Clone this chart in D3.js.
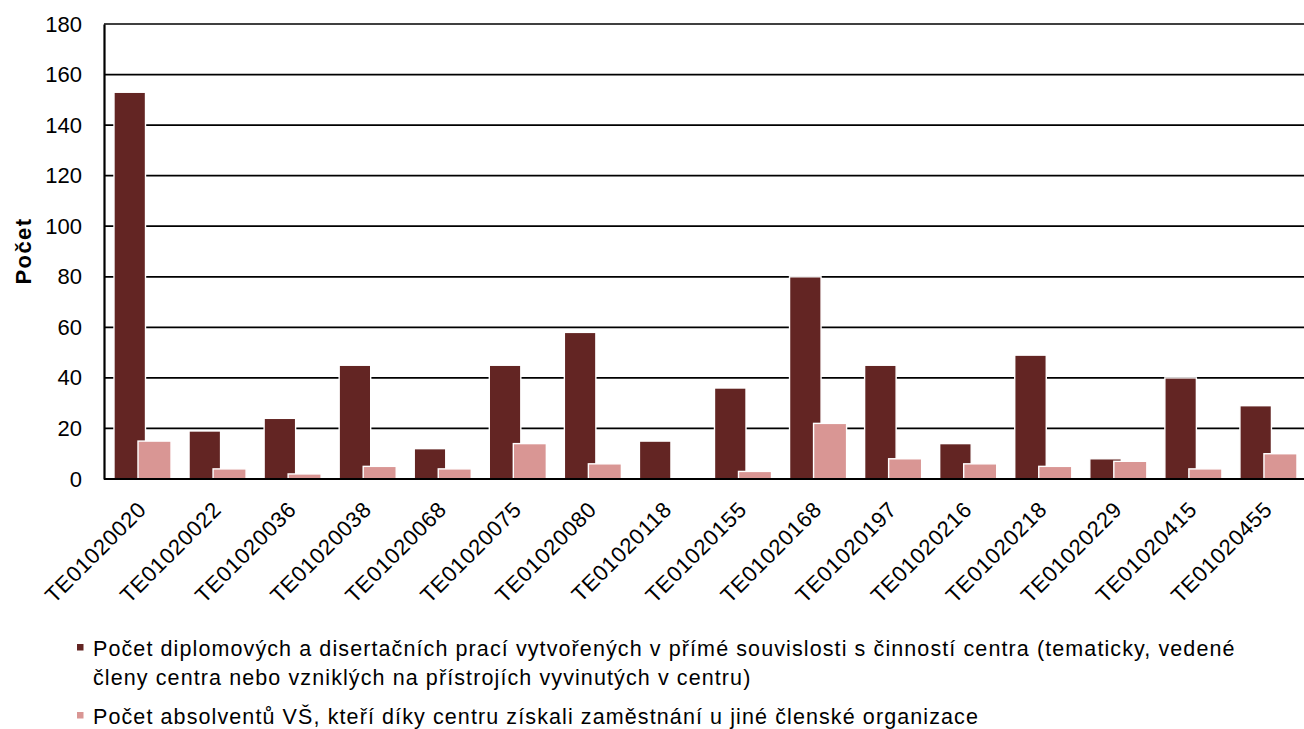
<!DOCTYPE html>
<html>
<head>
<meta charset="utf-8">
<script src="https://cdn.jsdelivr.net/npm/d3@7/dist/d3.min.js"></script>
<style>
  html, body { margin: 0; padding: 0; background: #fff; }
  svg { display: block; font-family: "Liberation Sans", Arial, sans-serif; }
</style>
</head>
<body>
<svg id="chart" width="1304" height="729"></svg>
<script>
// Project codes (categories)
const categories = [
  "TE01020020", "TE01020022", "TE01020036", "TE01020038",
  "TE01020068", "TE01020075", "TE01020080", "TE01020118",
  "TE01020155", "TE01020168", "TE01020197", "TE01020216",
  "TE01020218", "TE01020229", "TE01020415", "TE01020455"
];

// Theses created in direct connection with the centre's activity
const theses = [153, 19, 24, 45, 12, 45, 58, 15, 36, 80, 45, 14, 49, 8, 40, 29];

// Graduates employed at another member organisation thanks to the centre
const graduates = [15, 4, 2, 5, 4, 14, 6, 0, 3, 22, 8, 6, 5, 7, 4, 10];

const yTicks = [0, 20, 40, 60, 80, 100, 120, 140, 160, 180];

const seriesNames = [
  ["Počet diplomových a disertačních prací vytvořených v přímé souvislosti s činností centra (tematicky, vedené",
   "členy centra nebo vzniklých na přístrojích vyvinutých v centru)"],
  ["Počet absolventů VŠ, kteří díky centru získali zaměstnání u jiné členské organizace"]
];

const colors = ["#632523", "#D99694"];

const svg = d3.select("#chart");
const plot = { left: 104, right: 1305, top: 24, bottom: 479 };

const x = d3.scaleBand().domain(categories).range([plot.left, plot.right]).padding(0);
const y = d3.scaleLinear().domain([0, 180]).range([plot.bottom, plot.top]);
const bw = x.bandwidth();

// Horizontal gridlines
svg.append("g")
  .selectAll("line")
  .data(yTicks.filter(d => d > 0))
  .join("line")
  .attr("x1", plot.left).attr("x2", 1304)
  .attr("y1", d => y(d)).attr("y2", d => y(d))
  .attr("stroke", "#000").attr("stroke-width", 1.7);

// Bars: dark series first, light series overlapping on top
const barDefs = [
  { values: theses, offset: 0.133, width: 0.42, color: colors[0] },
  { values: graduates, offset: 0.453, width: 0.44, color: colors[1] }
];

barDefs.forEach(s => {
  svg.append("g")
    .selectAll("rect")
    .data(categories.map((c, i) => ({ c, v: s.values[i] })).filter(d => d.v > 0))
    .join("rect")
    .attr("x", d => x(d.c) + bw * s.offset)
    .attr("width", bw * s.width)
    .attr("y", d => y(d.v))
    .attr("height", d => y(0) - y(d.v))
    .attr("fill", s.color)
    .attr("stroke", "#fff")
    .attr("stroke-width", 1.4);
});

// Y axis
const yAxis = d3.axisLeft(y).tickValues(yTicks).tickSize(0).tickPadding(22);
const gy = svg.append("g").attr("transform", `translate(${plot.left},0)`).call(yAxis);
gy.select(".domain").attr("stroke", "#000").attr("stroke-width", 2.2);
gy.selectAll("text")
  .attr("font-size", 22)
  .attr("fill", "#000")
  .attr("font-family", "Liberation Sans, Arial, sans-serif");

// X axis with rotated category labels
const xAxis = d3.axisBottom(x).tickSize(0).tickPadding(0);
const gx = svg.append("g").attr("transform", `translate(0,${plot.bottom})`).call(xAxis);
gx.select(".domain").attr("stroke", "#000").attr("stroke-width", 2.2)
  .attr("d", `M${plot.left},0H1304`);
gx.selectAll("text")
  .attr("font-size", 22)
  .attr("letter-spacing", 0.6)
  .attr("fill", "#000")
  .attr("font-family", "Liberation Sans, Arial, sans-serif")
  .attr("text-anchor", "end")
  .attr("dy", null)
  .attr("y", null)
  .attr("transform", "translate(6,32) rotate(-45)");

// Y axis title
svg.append("text")
  .attr("transform", "translate(31,251) rotate(-90)")
  .attr("text-anchor", "middle")
  .attr("font-size", 22)
  .attr("letter-spacing", 1.4)
  .attr("font-weight", "bold")
  .text("Počet");

// Legend
const legend = svg.append("g");
const legendRows = [
  { lines: seriesNames[0], y: 656, color: colors[0] },
  { lines: seriesNames[1], y: 724, color: colors[1] }
];
legendRows.forEach(r => {
  legend.append("rect")
    .attr("x", 77).attr("y", r.y - 12)
    .attr("width", 6.5).attr("height", 6.5)
    .attr("fill", r.color);
  const t = legend.append("text")
    .attr("x", 93).attr("y", r.y)
    .attr("font-size", 21.5)
    .attr("letter-spacing", 1.1)
    .attr("fill", "#000");
  r.lines.forEach((ln, i) => {
    t.append("tspan").attr("x", 93).attr("dy", i === 0 ? 0 : 29).text(ln);
  });
});
</script>
</body>
</html>
